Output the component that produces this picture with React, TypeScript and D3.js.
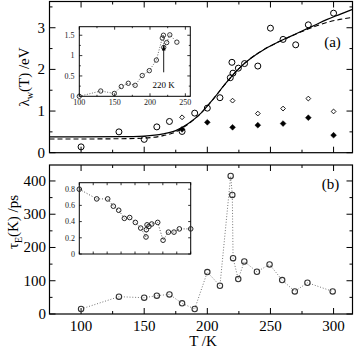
import React from "react";
import * as d3 from "d3";

// ---------- data ----------
// top panel (a): lambda_w(T) / eV
const circT = [100, 130, 150, 160, 170, 180, 190, 200, 210, 218.2, 219.5, 220.3, 224.6, 229.5, 240, 250, 260, 270, 280, 300];
const circV = [0.14, 0.5, 0.32, 0.62, 0.75, 0.51, 0.95, 1.07, 1.32, 1.8, 2.17, 1.91, 2.03, 2.14, 2.08, 2.99, 2.72, 2.59, 3.07, 3.35];
const openDiaT = [180, 220, 240, 260, 280, 300];
const openDiaV = [0.85, 1.25, 0.94, 1.06, 1.3, 0.99];
const fillDiaT = [180, 200, 220, 240, 260, 280, 300];
const fillDiaV = [0.56, 0.73, 0.61, 0.66, 0.7, 0.84, 0.42];
const solidT = [75, 100, 130, 150, 165, 175, 185, 195, 205, 215, 225, 235, 245, 255, 265, 275, 285, 295, 305, 315];
const solidV = [0.38, 0.38, 0.385, 0.4, 0.45, 0.53, 0.7, 0.95, 1.3, 1.68, 2.02, 2.28, 2.48, 2.64, 2.78, 2.92, 3.06, 3.2, 3.32, 3.44];
const dashT = [75, 100, 130, 150, 165, 175, 185, 195, 205, 215, 225, 235, 245, 255, 265, 275, 285, 295, 305, 315];
const dashV = [0.33, 0.33, 0.335, 0.35, 0.41, 0.5, 0.69, 0.95, 1.3, 1.68, 2.02, 2.28, 2.48, 2.64, 2.78, 2.91, 3.03, 3.13, 3.2, 3.25];
// top inset
const inATT = [100, 130.3, 149.5, 159.4, 169.3, 179, 189, 199, 209, 217.4, 219, 219.4, 223.6, 228, 238];
const inATV = [0, 0.13, 0.07, 0.24, 0.32, 0.27, 0.51, 0.63, 0.89, 1.43, 1.5, 1.2, 1.32, 1.51, 1.33];
// bottom panel (b): tau_E(K) / ps
const tauT = [100, 130, 150, 160, 170, 180, 190, 200, 210, 218.5, 219.8, 220.4, 224.5, 229.3, 239.3, 249.3, 259.3, 269.3, 279.3, 299.3];
const tauV = [15, 52, 49, 55, 59, 32, 15, 126, 85, 415, 358, 168, 105, 158, 127, 149, 102, 68, 94, 68];
// bottom inset
const inBX = [100, 125, 140.8, 148.9, 156.6, 164.7, 172.4, 180.5, 188.2, 195.8, 196.3, 197.3, 200, 204, 212.6, 220.3, 228, 236, 243.7, 260];
const inBV = [0.8, 0.68, 0.68, 0.59, 0.54, 0.44, 0.45, 0.39, 0.32, 0.21, 0.3, 0.36, 0.34, 0.37, 0.39, 0.17, 0.27, 0.27, 0.31, 0.31];

const xTickLabels = [100, 150, 200, 250, 300];
const yTopLabels = [0, 1, 2, 3];
const yBotLabels = [0, 100, 200, 300, 400];
const inAXLabels = [100, 150, 200, 250];
const inAYLabels = [0, 0.5, 1, 1.5];
const inBYLabels = [0, 0.2, 0.4, 0.6, 0.8];

const FONT = "Liberation Serif, Times New Roman, DejaVu Serif, serif";

type Sc = d3.ScaleLinear<number, number>;

function Frame({ x, y, len, major, minor, maj, mi, sw }: any) {
  const [x0, x1] = x.range();
  const [y0, y1] = y.range();
  const els: any[] = [];
  const addX = (vals: number[], L: number) =>
    vals.forEach((v, i) => {
      const px = x(v);
      if (px < x0 - 0.1 || px > x1 + 0.1) return;
      els.push(<line key={"xb" + L + i + v} x1={px} x2={px} y1={y0} y2={y0 - L} stroke="#000" strokeWidth={sw} />);
      els.push(<line key={"xt" + L + i + v} x1={px} x2={px} y1={y1} y2={y1 + L} stroke="#000" strokeWidth={sw} />);
    });
  const addY = (vals: number[], L: number) =>
    vals.forEach((v, i) => {
      const py = y(v);
      if (py > y0 + 0.1 || py < y1 - 0.1) return;
      els.push(<line key={"yl" + L + i + v} x1={x0} x2={x0 + L} y1={py} y2={py} stroke="#000" strokeWidth={sw} />);
      els.push(<line key={"yr" + L + i + v} x1={x1} x2={x1 - L} y1={py} y2={py} stroke="#000" strokeWidth={sw} />);
    });
  addX(major.x, maj);
  addX(minor.x, mi);
  addY(major.y, maj);
  addY(minor.y, mi);
  return (
    <g>
      <rect x={x0} y={y1} width={x1 - x0} height={y0 - y1} fill="none" stroke="#000" strokeWidth={len} />
      {els}
    </g>
  );
}

function diamond(cx: number, cy: number, r: number) {
  return `M${cx},${cy - r}L${cx + r},${cy}L${cx},${cy + r}L${cx - r},${cy}Z`;
}

export default function App() {
  const xM: Sc = d3.scaleLinear().domain([75, 315]).range([49.5, 352.5]);
  const yA: Sc = d3.scaleLinear().domain([0, 3.63]).range([152.7, 1.5]);
  const yB: Sc = d3.scaleLinear().domain([0, 448]).range([314, 165]);
  const xIA: Sc = d3.scaleLinear().domain([100, 257]).range([79.3, 190.3]);
  const yIA: Sc = d3.scaleLinear().domain([0, 1.71]).range([96.3, 26.7]);
  const xIB: Sc = d3.scaleLinear().domain([100, 260]).range([79.3, 190.7]);
  const yIB: Sc = d3.scaleLinear().domain([0, 0.88]).range([254, 182.7]);

  const line = (xs: Sc, ys: Sc, curve: any = d3.curveLinear) =>
    d3.line<[number, number]>().x((d) => xs(d[0])).y((d) => ys(d[1])).curve(curve);

  const solid = line(xM, yA, d3.curveMonotoneX)(solidT.map((t, i) => [t, solidV[i]]));
  const dashed = line(xM, yA, d3.curveMonotoneX)(dashT.map((t, i) => [t, dashV[i]]));
  const inAPath = line(xIA, yIA)(inATT.map((t, i) => [t, inATV[i]]));
  const tauPath = line(xM, yB)(tauT.map((t, i) => [t, tauV[i]]));
  const inBPath = line(xIB, yIB)(inBX.map((t, i) => [t, inBV[i]]));

  const mainXMaj = d3.range(100, 301, 50);
  const mainXMin = d3.range(75, 316, 25).filter((v) => v % 50 !== 0);
  const tf = { fontFamily: FONT };

  return (
    <svg width={354} height={347} style={{ position: "absolute", left: 0, top: 0, background: "#fff", fontFamily: FONT }}>
      <rect width={354} height={347} fill="#fff" />
      {/* ---------- panel (a) ---------- */}
      <Frame x={xM} y={yA} len={1.2} sw={1} maj={6} mi={3}
        major={{ x: mainXMaj, y: yTopLabels }}
        minor={{ x: mainXMin, y: [0.5, 1.5, 2.5, 3.5] }} />
      <path d={dashed || ""} fill="none" stroke="#000" strokeWidth={1.1} strokeDasharray="5,3" />
      <path d={solid || ""} fill="none" stroke="#000" strokeWidth={1.2} />
      {circT.map((t, i) => (
        <circle key={"c" + i} cx={xM(t)} cy={yA(circV[i])} r={3} fill="none" stroke="#000" strokeWidth={1} />
      ))}
      {openDiaT.map((t, i) => (
        <path key={"od" + i} d={diamond(xM(t), yA(openDiaV[i]), 2.4)} fill="#fff" stroke="#000" strokeWidth={0.9} />
      ))}
      {fillDiaT.map((t, i) => (
        <path key={"fd" + i} d={diamond(xM(t), yA(fillDiaV[i]), 2.9)} fill="#000" stroke="#000" strokeWidth={0.5} />
      ))}
      {yTopLabels.map((v) => (
        <text key={"ya" + v} x={45} y={yA(v) + 5} fontSize={15} textAnchor="end" style={tf}>{v}</text>
      ))}
      <text x={332.5} y={46.5} fontSize={15} textAnchor="middle" style={tf}>(a)</text>
      <text transform={`translate(29,77) rotate(-90)`} fontSize={15} textAnchor="middle" style={tf}>
        λ<tspan fontSize={10} dy={4}>w</tspan>
        <tspan dy={-4}>(T) /eV</tspan>
      </text>

      {/* inset (a) */}
      <rect x={79.3} y={26.7} width={111} height={69.6} fill="#fff" />
      <Frame x={xIA} y={yIA} len={1} sw={0.8} maj={3} mi={1.5}
        major={{ x: inAXLabels, y: inAYLabels }}
        minor={{ x: [125, 175, 225], y: [0.25, 0.75, 1.25] }} />
      <path d={inAPath || ""} fill="none" stroke="#666" strokeWidth={1} strokeDasharray="1,1.6" />
      {inATT.map((t, i) => (
        <circle key={"ia" + i} cx={xIA(t)} cy={yIA(inATV[i])} r={2.2} fill="none" stroke="#222" strokeWidth={0.9} />
      ))}
      {inAXLabels.map((v) => (
        <text key={"iax" + v} x={xIA(v)} y={105} fontSize={8} textAnchor="middle" fill="#222" style={tf}>{v}</text>
      ))}
      {inAYLabels.map((v) => (
        <text key={"iay" + v} x={74.5} y={yIA(v) + 2.8} fontSize={8} textAnchor="end" fill="#222" style={tf}>{v}</text>
      ))}
      <line x1={163.7} x2={163.7} y1={72.3} y2={47} stroke="#000" strokeWidth={0.9} />
      <path d="M161.9,50.5L163.7,44.5L165.5,50.5Z" fill="#000" />
      <text x={163.5} y={88} fontSize={9} textAnchor="middle" style={tf}>220 K</text>

      {/* ---------- panel (b) ---------- */}
      <Frame x={xM} y={yB} len={1.2} sw={1} maj={6} mi={3}
        major={{ x: mainXMaj, y: yBotLabels }}
        minor={{ x: mainXMin, y: [50, 150, 250, 350] }} />
      <path d={tauPath || ""} fill="none" stroke="#777" strokeWidth={1} strokeDasharray="1,1.8" />
      {tauT.map((t, i) => (
        <circle key={"t" + i} cx={xM(t)} cy={yB(tauV[i])} r={2.7} fill="none" stroke="#333" strokeWidth={1.1} />
      ))}
      {yBotLabels.map((v) => (
        <text key={"yb" + v} x={46} y={yB(v) + 5} fontSize={15} textAnchor="end" style={tf}>{v}</text>
      ))}
      {xTickLabels.map((v) => (
        <text key={"xl" + v} x={xM(v)} y={330.5} fontSize={15} textAnchor="middle" style={tf}>{v}</text>
      ))}
      <text x={203} y={345.5} fontSize={15} textAnchor="middle" style={tf}>T /K</text>
      <text x={330.5} y={188.5} fontSize={15} textAnchor="middle" style={tf}>(b)</text>
      <text transform={`translate(17.5,222) rotate(-90)`} fontSize={15} textAnchor="middle" style={tf}>
        τ<tspan fontSize={10} dy={4}>E</tspan>
        <tspan dy={-4}>(K) /ps</tspan>
      </text>

      {/* inset (b) */}
      <rect x={79.3} y={182.7} width={111.4} height={71.3} fill="#fff" />
      <Frame x={xIB} y={yIB} len={1} sw={0.8} maj={2.5} mi={1.5}
        major={{ x: d3.range(100, 261, 20), y: inBYLabels }}
        minor={{ x: [], y: [] }} />
      <path d={inBPath || ""} fill="none" stroke="#555" strokeWidth={1} strokeDasharray="1,1.8" />
      {inBX.map((t, i) => (
        <circle key={"ib" + i} cx={xIB(t)} cy={yIB(inBV[i])} r={2.3} fill="none" stroke="#222" strokeWidth={1} />
      ))}
      {inBYLabels.map((v) => (
        <text key={"iby" + v} x={75} y={yIB(v) + 2.8} fontSize={8} textAnchor="end" fill="#222" style={tf}>{v}</text>
      ))}
    </svg>
  );
}
